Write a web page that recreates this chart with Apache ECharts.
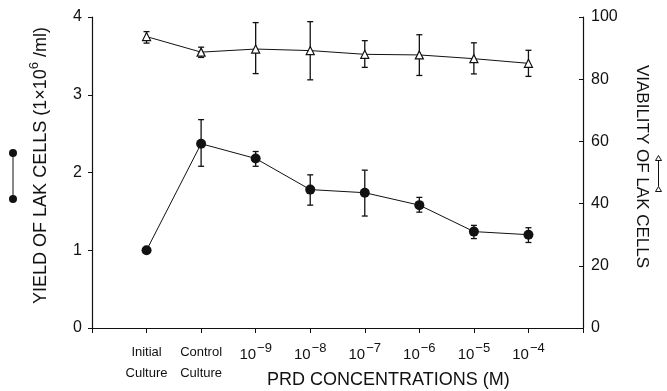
<!DOCTYPE html>
<html>
<head>
<meta charset="utf-8">
<script src="https://cdn.jsdelivr.net/npm/echarts@6/dist/echarts.min.js"></script>
<style>
  html, body { margin: 0; padding: 0; background: #fff; }
  #chart { width: 667px; height: 391px; }
</style>
</head>
<body>
<div id="chart"></div>
<script>
// categories along the x axis (positions 1..8)
var categories = ['Initial\nCulture', 'Control\nCulture', '-9', '-8', '-7', '-6', '-5', '-4'];

// yield of LAK cells (1x10^6/ml), left axis
var yieldMean = [1.0, 2.37, 2.18, 1.78, 1.74, 1.58, 1.24, 1.2];
var yieldLow  = [null, 2.08, 2.08, 1.58, 1.44, 1.49, 1.15, 1.1];
var yieldHigh = [null, 2.68, 2.27, 1.97, 2.03, 1.68, 1.32, 1.29];

// viability of LAK cells (%), right axis
var viabMean = [93.7, 88.7, 89.7, 89.2, 88.0, 87.8, 86.6, 85.1];
var viabLow  = [91.6, 87.0, 81.8, 79.8, 83.8, 81.2, 81.7, 80.9];
var viabHigh = [95.3, 90.3, 98.2, 98.5, 92.4, 94.3, 91.7, 89.3];

var leftTicks = [0, 1, 2, 3, 4];
var rightTicks = [0, 20, 40, 60, 80, 100];

function pts(vals) {
  return vals.map(function (v, i) { return [i + 1, v]; });
}
function bars(lo, hi) {
  var out = [];
  for (var i = 0; i < lo.length; i++) {
    if (lo[i] != null) out.push([i + 1, lo[i], hi[i]]);
  }
  return out;
}
function errRender(params, api) {
  var x = api.value(0);
  var a = api.coord([x, api.value(1)]);
  var b = api.coord([x, api.value(2)]);
  var w = 3;
  var st = { stroke: '#111', lineWidth: 1.3 };
  return {
    type: 'group',
    children: [
      { type: 'line', shape: { x1: a[0], y1: a[1], x2: b[0], y2: b[1] }, style: st },
      { type: 'line', shape: { x1: a[0] - w, y1: a[1], x2: a[0] + w, y2: a[1] }, style: st },
      { type: 'line', shape: { x1: b[0] - w, y1: b[1], x2: b[0] + w, y2: b[1] }, style: st }
    ]
  };
}

var font = '"Liberation Sans", Arial, sans-serif';
var axisCol = '#111';

var chart = echarts.init(document.getElementById('chart'));
chart.setOption({
  animation: false,
  grid: { left: 92, right: 84, top: 17, bottom: 63 },
  xAxis: {
    type: 'value', min: 0, max: 9, interval: 1,
    splitLine: { show: false },
    axisLine: { onZero: false, lineStyle: { color: axisCol, width: 1.2 } },
    axisTick: { inside: false, length: 5, lineStyle: { color: axisCol } },
    axisLabel: {
      margin: 14,
      fontFamily: font,
      color: '#111',
      formatter: function (v) {
        var i = Math.round(v) - 1;
        if (i < 0 || i >= categories.length) return '';
        if (i < 2) return '{c|' + categories[i].replace('\n', '}\n{c|') + '}';
        return '{n|10}{s|' + categories[i].replace('-', '\u2212') + '}';
      },
      rich: {
        c: { fontSize: 13, lineHeight: 21, fontFamily: font, color: '#111' },
        n: { fontSize: 15, lineHeight: 20, fontFamily: font, color: '#111', verticalAlign: 'bottom' },
        s: { fontSize: 13, lineHeight: 20, fontFamily: font, color: '#111', verticalAlign: 'top', padding: [0, 0, 10, 1] }
      }
    }
  },
  yAxis: [{
    type: 'value', min: 0, max: 4, interval: 1,
    splitLine: { show: false },
    axisLine: { show: true, lineStyle: { color: axisCol, width: 1.2 } },
    axisTick: { show: true, length: 4, lineStyle: { color: axisCol } },
    axisLabel: { margin: 10, fontSize: 16, fontFamily: font, color: '#111',
      formatter: function (v) { return leftTicks.indexOf(v) >= 0 ? String(v) : ''; } },
    name: '{t|YIELD OF LAK CELLS (1\u00d710}{u|6}{t| /ml)}',
    nameLocation: 'middle', nameRotate: 90, nameGap: 42,
    nameTextStyle: {
      padding: [0, 0, 0, 14],
      rich: {
        t: { fontSize: 18, fontFamily: font, color: '#111', lineHeight: 22, verticalAlign: 'bottom' },
        u: { fontSize: 13, fontFamily: font, color: '#111', lineHeight: 22, verticalAlign: 'top' }
      }
    }
  }, {
    type: 'value', min: 0, max: 100, interval: 20, position: 'right',
    splitLine: { show: false },
    axisLine: { show: true, lineStyle: { color: axisCol, width: 1.2 } },
    axisTick: { show: true, inside: true, length: 4, lineStyle: { color: axisCol } },
    axisLabel: { margin: 8, fontSize: 16, fontFamily: font, color: '#111',
      formatter: function (v) { return rightTicks.indexOf(v) >= 0 ? String(v) : ''; } },
    name: 'VIABILITY OF LAK CELLS',
    nameLocation: 'middle', nameRotate: -90, nameGap: 50,
    nameTextStyle: { fontSize: 17, fontFamily: font, color: '#111', padding: [0, 12, 0, 0] }
  }],
  graphic: [
    { type: 'text', left: 267, top: 371,
      style: { text: 'PRD CONCENTRATIONS (M)', fontSize: 18, fontFamily: font, fill: '#111' } },
    { type: 'group', left: 9, top: 149, children: [
      { type: 'circle', shape: { cx: 4, cy: 4, r: 4 }, style: { fill: '#111' } },
      { type: 'line', shape: { x1: 4, y1: 4, x2: 4, y2: 50 }, style: { stroke: '#111', lineWidth: 1 } },
      { type: 'circle', shape: { cx: 4, cy: 50, r: 4 }, style: { fill: '#111' } }
    ] },
    { type: 'group', left: 655, top: 155, children: [
      { type: 'polygon', shape: { points: [[3, 0], [0, 5], [6, 5]] }, style: { fill: '#fff', stroke: '#111', lineWidth: 1 } },
      { type: 'line', shape: { x1: 3, y1: 5, x2: 3, y2: 31 }, style: { stroke: '#111', lineWidth: 1 } },
      { type: 'polygon', shape: { points: [[3, 31], [0, 36], [6, 36]] }, style: { fill: '#fff', stroke: '#111', lineWidth: 1 } }
    ] }
  ],
  series: [{
    type: 'custom', yAxisIndex: 0, renderItem: errRender,
    data: bars(yieldLow, yieldHigh), z: 2
  }, {
    type: 'line', yAxisIndex: 0, data: pts(yieldMean),
    symbol: 'circle', symbolSize: 10,
    lineStyle: { color: '#111', width: 1 },
    itemStyle: { color: '#111' }, z: 3
  }, {
    type: 'custom', yAxisIndex: 1, renderItem: errRender,
    data: bars(viabLow, viabHigh), z: 2
  }, {
    type: 'line', yAxisIndex: 1, data: pts(viabMean),
    symbol: 'triangle', symbolSize: 8,
    lineStyle: { color: '#111', width: 1 },
    itemStyle: { color: '#fff', borderColor: '#111', borderWidth: 1.2 }, z: 3
  }]
});
</script>
</body>
</html>
